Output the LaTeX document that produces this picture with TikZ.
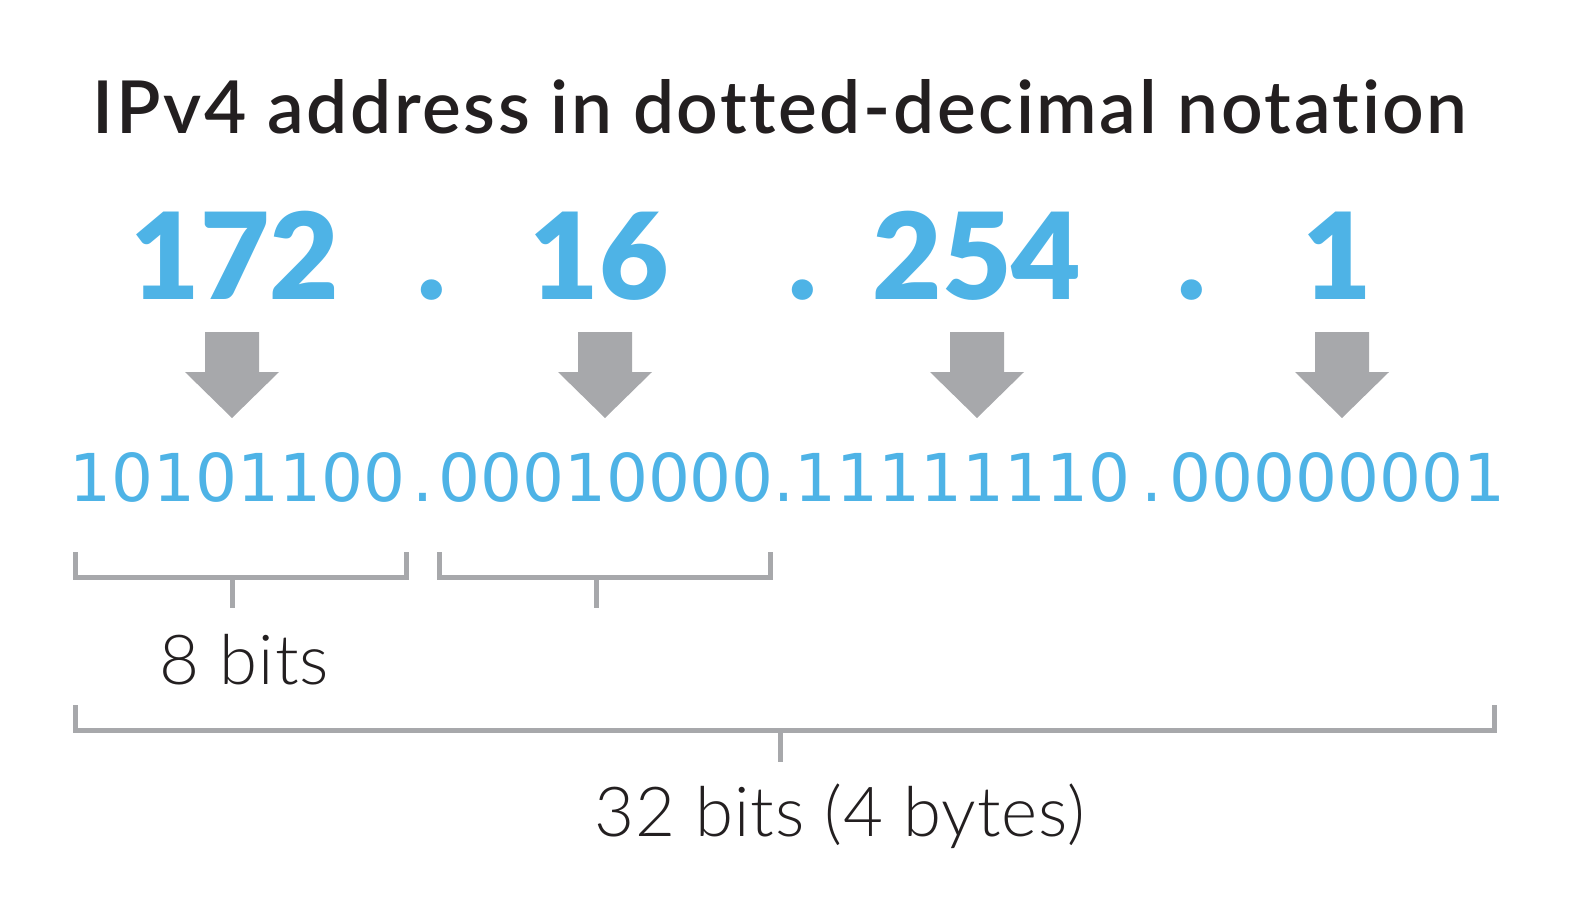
\documentclass[tikz,border=0pt]{standalone}
\usepackage{fontspec}
\setmainfont{Lato}
\newfontfamily\titlefont{Lato Semibold}[Ligatures=NoCommon, LetterSpace=3.5]
\newfontfamily\heavyfont{Lato Black}
\newfontfamily\lightfont{Lato Light}[LetterSpace=1.5]
\newfontfamily\bitfont{DejaVu Sans}

\definecolor{ipblue}{RGB}{78,179,230}
\definecolor{arrowgray}{RGB}{167,168,171}
\definecolor{textdark}{RGB}{35,31,32}

\tikzset{
  decimal/.style={text=ipblue, inner sep=0pt, anchor=base, font=\heavyfont\fontsize{60}{60}\selectfont},
  binary/.style={text=ipblue, inner sep=0pt, anchor=base west, font=\bitfont\fontsize{33}{33}\selectfont},
  bracket/.style={draw=arrowgray, line width=2.5pt},
  caption/.style={text=textdark, inner sep=0pt, anchor=base, font=\lightfont\fontsize{34.5}{35}\selectfont}
}

\begin{document}
\begin{tikzpicture}[x=0.5pt, y=-0.5pt]
  \useasboundingbox (0,0) rectangle (1576,922);

  % Title
  \node[text=textdark, inner sep=0pt, anchor=base, font=\titlefont\fontsize{36.5}{37}\selectfont]
    (title) at (780,133) {IPv4 address in dotted-decimal notation};

  % Decimal octets
  \node[decimal] (n1) at (235,299) {172};
  \node[decimal] (d1) at (432,299) {.};
  \node[decimal] (n2) at (599,299) {16};
  \node[decimal] (d2) at (803,299) {.};
  \node[decimal] (n3) at (977,299) {254};
  \node[decimal] (d3) at (1192,299) {.};
  \node[decimal] (n4) at (1337,299) {1};

  % Arrows down to binary
  \foreach \x in {232,605,977,1342}
    \fill[arrowgray] (\x,418) -- ++(-47,-46) -- ++(20,0) -- ++(0,-40)
      -- ++(54,0) -- ++(0,40) -- ++(20,0) -- cycle;

  % Binary form
  \node[binary] (bin) at (69,501)
    {10101100\kern3.5pt.\kern2.5pt00010000.11111110\kern5.5pt.\kern3.5pt00000001};

  % Byte brackets
  \draw[bracket] (75.5,552) -- (75.5,577.5) -- (406.5,577.5) -- (406.5,552);
  \draw[bracket] (232.5,577.5) -- (232.5,608);
  \draw[bracket] (439.5,552) -- (439.5,577.5) -- (770.5,577.5) -- (770.5,552);
  \draw[bracket] (596,577.5) -- (596,608);
  \node[caption] (byte) at (244.5,684) {8 bits};

  % Whole address bracket
  \draw[bracket] (75.5,705) -- (75.5,730.5) -- (1494,730.5) -- (1494,705);
  \draw[bracket] (780,730.5) -- (780,762);
  \node[caption] (total) at (840,836) {32 bits (4 bytes)};
\end{tikzpicture}
\end{document}
